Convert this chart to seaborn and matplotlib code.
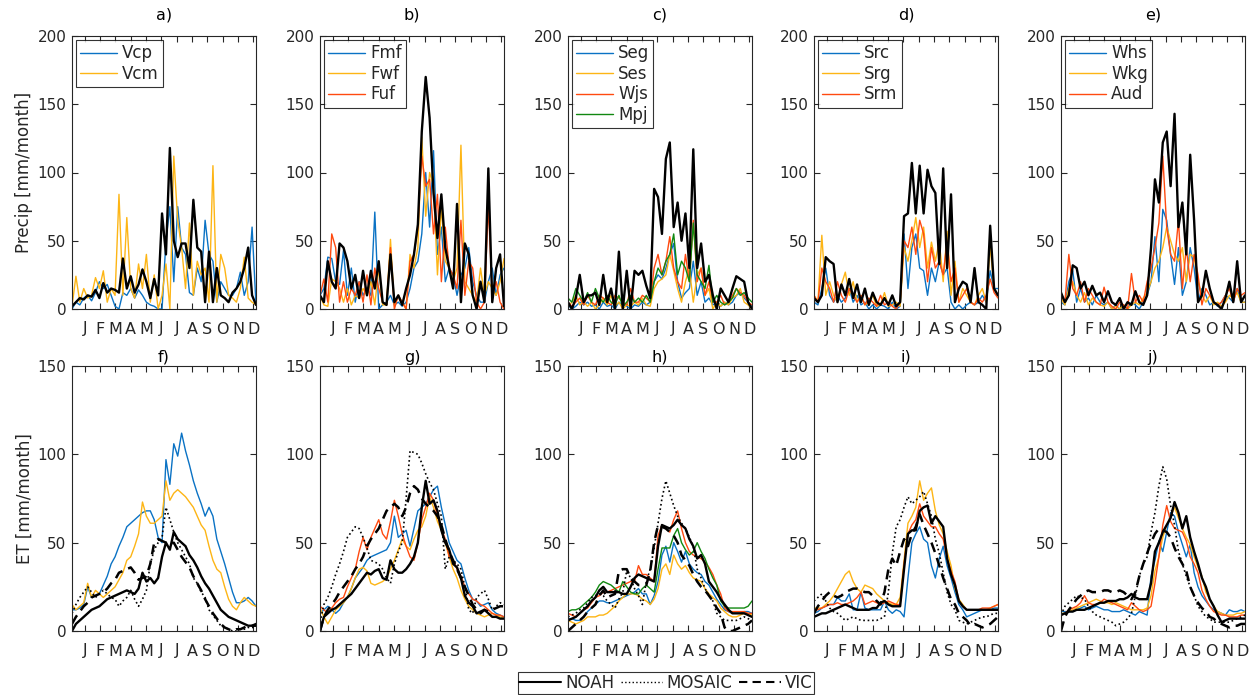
import numpy as np
import pandas as pd
import seaborn as sns
import matplotlib.pyplot as plt
from matplotlib.lines import Line2D

# ---------------- data (48 steps per year) ----------------
months = ['J', 'F', 'M', 'A', 'M', 'J', 'J', 'A', 'S', 'O', 'N', 'D']

# precipitation, top row
a_noah = [2,5,8,7,10,9,14,8,19,12,15,14,12,37,15,24,12,18,29,20,8,22,10,70,
          40,118,50,38,48,48,30,80,45,42,5,42,5,30,10,8,5,12,15,20,30,45,10,3]
a_vcp = [0,5,3,8,10,6,12,20,15,18,10,2,0,12,10,15,8,14,10,5,3,2,0,0,
         50,75,20,75,45,40,12,10,30,20,65,40,35,5,20,15,10,10,15,27,10,20,60,3]
a_vcm = [2,24,5,15,8,10,23,15,28,5,15,10,84,10,67,15,8,33,15,40,5,25,0,10,
         33,0,112,65,45,15,63,10,35,25,30,5,105,5,40,30,10,8,5,15,38,8,5,3]

b_noah = [10,5,35,20,15,48,45,35,15,25,8,28,10,28,15,35,5,3,40,5,10,3,15,25,
          40,62,130,170,140,85,52,84,45,30,15,77,5,48,40,10,0,20,5,103,5,30,40,2]
b_fmf = [10,15,38,37,20,18,43,10,30,5,20,10,15,10,71,0,3,5,10,3,5,2,5,15,
         30,35,55,100,60,116,40,60,20,30,25,10,25,30,45,20,10,5,5,20,30,10,25,30]
b_fwf = [10,3,2,22,20,15,5,15,3,10,8,15,10,20,3,30,3,3,51,2,10,5,0,40,
         30,45,126,68,100,90,25,75,35,30,20,30,120,20,15,10,5,30,10,20,15,10,20,37]
b_fuf = [10,22,5,55,45,5,20,5,15,10,20,5,25,3,30,15,5,3,45,0,10,5,0,35,
         40,60,112,90,95,55,84,20,60,30,25,15,65,10,35,30,5,0,5,76,10,20,5,0]

c_noah = [5,0,8,25,5,10,10,12,3,25,5,15,0,42,0,28,0,28,25,28,17,8,88,82,
          55,110,122,60,78,50,70,30,117,30,48,20,25,10,0,15,10,5,15,24,22,20,5,0]
c_seg = [3,0,2,5,3,5,2,3,0,5,2,3,0,5,3,2,0,3,2,5,3,5,20,25,
         22,30,40,48,20,8,12,15,35,10,20,5,8,3,5,2,5,3,5,10,12,8,5,2]
c_ses = [2,5,10,3,5,2,5,0,3,8,3,10,2,5,0,3,2,5,3,8,3,2,15,20,
         22,25,40,28,15,5,20,30,5,25,30,10,15,0,5,2,5,3,8,10,15,5,3,0]
c_wjs = [5,2,5,8,3,10,5,3,10,8,5,3,10,8,5,3,15,5,5,10,8,5,30,40,
         25,35,53,30,20,15,40,20,65,20,30,10,20,5,5,10,3,5,10,15,12,10,5,3]
c_mpj = [8,5,15,10,5,12,5,15,8,5,10,5,3,10,2,5,10,5,8,5,10,5,20,30,
         25,35,40,55,25,35,30,20,63,25,20,15,32,5,10,5,3,5,8,15,10,12,8,5]

d_noah = [8,5,10,38,35,33,5,18,10,22,8,18,5,15,3,12,5,3,8,3,10,2,5,68,
          70,107,70,105,70,102,90,85,33,103,30,84,5,15,20,18,5,30,5,3,0,61,15,10]
d_src = [5,3,15,30,10,5,10,5,8,15,5,10,3,5,0,3,0,3,2,0,5,0,2,55,
         15,45,55,30,28,10,30,20,35,25,30,5,0,3,0,3,5,3,5,10,5,28,15,15]
d_srg = [10,5,54,10,20,10,5,18,27,10,20,5,10,3,5,10,2,3,12,2,3,5,2,45,
         35,50,67,45,60,30,49,35,50,20,57,10,35,5,15,10,5,3,10,15,5,46,15,10]
d_srm = [10,5,30,20,15,5,20,10,5,15,10,5,10,3,8,5,2,10,3,5,2,0,5,50,
         45,60,40,65,55,20,45,30,35,25,50,20,30,5,10,15,5,3,8,5,10,22,12,8]

e_noah = [12,5,10,32,30,15,20,10,17,10,12,5,13,5,3,8,0,5,3,13,5,3,10,45,
          95,78,122,130,90,143,60,78,40,113,65,5,10,28,15,5,3,0,8,20,5,35,5,10]
e_whs = [5,3,20,28,5,15,5,8,3,10,5,3,5,0,3,0,2,0,5,3,0,5,10,20,
         53,20,73,65,40,18,45,10,20,45,30,5,15,10,3,5,2,5,10,8,5,15,5,5]
e_wkg = [8,3,15,20,10,5,12,3,8,5,3,2,5,0,2,0,3,0,3,5,3,8,12,20,
         30,35,45,60,50,40,35,45,20,40,38,20,10,5,10,3,5,2,5,10,8,12,5,5]
e_aud = [10,5,40,15,10,20,5,15,10,5,3,16,5,2,0,5,3,0,26,5,10,5,20,30,
         45,63,112,60,40,35,65,15,45,20,40,25,3,15,10,5,3,5,10,15,5,15,10,12]

# evapotranspiration, bottom row
f_noah = [0,4,6,8,10,12,13,14,16,18,19,20,21,22,23,22,21,24,33,28,30,27,30,42,
          50,46,56,52,50,48,43,40,36,31,27,24,20,16,12,10,8,7,6,5,4,3,3,4]
f_mosaic = [10,15,19,22,25,22,19,21,23,21,19,18,14,17,19,23,18,14,18,23,38,46,50,53,
            70,63,56,50,46,42,38,30,27,22,19,12,9,6,3,2,1,0,0,1,1,2,2,2]
f_vic = [4,8,11,14,16,19,20,21,22,24,27,29,33,34,35,36,33,29,30,31,38,50,52,51,
         50,49,50,46,42,39,36,31,27,23,18,14,10,7,4,2,1,0,1,1,2,3,3,3]
f_vcp = [12,12,13,15,25,19,20,21,26,31,38,42,48,53,59,61,63,65,67,68,68,63,53,50,
         97,83,106,99,112,102,94,85,78,72,65,70,65,52,45,38,30,22,16,16,17,19,17,14]
f_vcm = [15,12,14,16,27,19,23,21,19,21,23,25,29,33,40,42,48,55,73,65,61,61,63,65,
         85,74,78,80,78,76,73,70,65,60,57,48,40,35,33,25,18,14,12,16,19,17,15,14]

g_noah = [0,8,10,12,13,15,17,19,21,24,27,30,33,32,34,35,30,29,40,35,33,33,35,38,
          42,50,70,85,72,74,68,57,50,46,38,36,30,20,16,14,10,11,12,10,8,8,7,7]
g_mosaic = [5,15,19,25,32,38,45,53,56,59,58,53,47,40,39,38,35,30,27,38,45,50,75,102,
            101,100,95,89,84,80,72,65,35,42,40,38,35,25,12,10,19,21,23,18,12,14,16,15]
g_vic = [0,8,12,15,18,22,25,28,31,35,38,42,48,52,55,58,63,68,70,72,70,65,70,78,
         82,80,75,72,70,68,65,60,52,45,40,35,30,25,20,15,12,10,12,11,12,13,14,14]
g_fmf = [10,12,14,12,10,12,16,19,24,30,33,36,40,42,43,44,45,46,50,65,53,55,57,48,
         58,68,70,72,76,80,82,70,60,50,45,40,38,30,23,18,17,14,15,16,12,10,9,8]
g_fwf = [13,8,4,8,12,14,16,19,24,30,35,36,34,27,26,27,28,30,35,40,46,52,48,46,
         52,57,59,65,76,70,62,57,50,42,35,30,23,18,14,12,10,9,8,9,10,9,8,7]
g_fuf = [14,12,10,13,16,18,19,25,30,35,45,53,46,53,58,63,55,52,62,74,65,55,48,42,
         40,50,63,70,78,74,65,58,52,42,40,35,31,25,21,18,17,15,14,12,10,9,9,8]

h_noah = [6,7,8,10,12,14,17,19,23,25,22,22,22,22,21,21,25,30,32,31,30,29,28,48,
          60,59,58,60,63,60,58,52,48,41,43,38,28,25,22,18,15,12,10,10,10,10,9,8]
h_mosaic = [8,9,10,12,13,16,19,20,21,20,17,15,13,18,22,34,30,24,20,15,28,35,47,61,
            75,85,78,71,65,61,58,53,48,35,30,24,20,17,10,8,6,6,6,6,7,8,7,6]
h_vic = [0,2,4,6,8,11,13,15,20,23,19,20,21,34,35,35,30,28,26,26,26,34,50,60,
         59,58,56,54,50,43,40,37,32,28,25,23,20,17,13,10,2,0,0,1,2,3,4,6]
h_seg = [7,7,6,6,8,11,13,15,17,17,16,16,17,18,19,20,21,22,24,21,21,15,20,28,
         43,48,39,50,45,39,45,38,35,33,32,28,26,22,18,15,12,11,10,10,10,11,11,10]
h_ses = [6,5,4,5,6,8,8,8,9,9,10,12,14,17,19,21,21,21,20,18,17,15,18,24,
         35,38,32,43,38,35,37,33,30,29,28,24,21,19,17,13,11,9,8,8,9,10,10,9]
h_wjs = [10,9,8,10,12,13,16,19,20,22,22,23,24,25,26,27,28,28,37,32,32,30,28,54,
         60,58,56,63,68,58,50,45,43,42,41,39,36,32,26,21,13,11,11,11,11,11,10,10]
h_mpj = [11,12,12,13,15,17,19,22,26,28,27,26,24,22,28,25,22,21,21,24,26,24,22,35,
         47,47,47,54,58,50,46,43,45,50,45,41,35,30,26,17,14,13,13,13,13,13,14,17]

i_noah = [8,9,10,10,11,12,13,14,15,14,13,12,12,12,12,13,13,16,17,15,14,14,14,35,
          55,57,57,68,70,71,61,65,62,59,41,32,26,17,14,12,12,12,12,12,12,12,12,12]
i_mosaic = [17,19,21,17,13,11,10,8,6,7,8,7,6,6,6,6,6,7,8,22,44,59,63,70,
            76,72,74,76,79,72,65,52,44,33,22,15,12,6,5,4,5,6,7,8,8,9,10,10]
i_vic = [10,14,17,20,22,20,19,20,22,23,24,24,23,22,22,20,17,15,22,35,41,37,45,52,
         48,55,59,66,60,55,50,44,37,30,24,18,15,10,8,6,3,4,3,2,3,4,6,8]
i_src = [10,11,13,14,15,15,19,17,17,21,12,12,22,13,12,12,12,12,17,12,10,12,11,8,
         30,50,55,59,52,50,37,30,41,48,37,30,22,15,12,8,9,10,11,12,12,12,13,13]
i_srg = [13,13,13,15,17,20,24,28,32,34,28,24,22,26,25,24,21,19,17,16,15,15,19,40,
         61,65,70,85,74,78,81,68,60,55,45,37,24,18,15,12,12,12,12,12,12,13,14,15]
i_srm = [12,12,13,14,15,15,16,15,15,16,17,19,22,15,16,17,16,15,16,17,16,15,15,38,
         55,60,63,72,65,62,59,59,55,52,41,34,28,17,14,12,12,12,12,13,13,13,14,15]

j_noah = [9,10,11,11,12,12,12,13,14,15,16,16,17,17,17,18,18,19,21,19,18,18,18,27,
          45,50,56,60,64,73,67,58,65,53,45,38,30,25,18,14,9,5,6,7,7,7,7,7]
j_mosaic = [9,14,16,18,20,19,18,14,11,9,8,7,6,5,3,4,5,7,10,20,31,38,42,56,
            67,82,93,86,71,60,45,38,31,25,20,14,11,8,7,5,5,5,5,5,6,7,8,9]
j_vic = [0,8,12,15,18,20,22,23,22,22,22,23,23,22,22,23,22,20,18,22,31,38,44,50,
         55,58,57,56,53,47,42,38,34,25,20,16,13,11,8,7,5,4,3,2,3,3,4,4]
j_whs = [11,11,11,11,12,13,14,12,13,14,13,12,12,11,11,11,12,11,10,9,11,10,9,31,
         40,51,45,56,67,65,56,49,42,49,33,25,20,17,14,12,11,10,9,12,11,11,12,11]
j_wkg = [10,10,11,12,13,14,15,16,17,18,17,16,16,15,16,15,14,13,12,12,12,12,13,20,
         34,42,53,60,65,70,64,58,53,49,42,36,31,22,18,14,11,10,9,9,9,10,10,11]
j_aud = [9,10,12,13,14,16,20,16,15,15,16,18,17,16,15,14,13,12,16,14,12,11,12,14,
         27,42,60,71,62,58,57,56,51,42,38,33,23,18,14,11,10,9,9,8,8,8,9,9]

top_panels = [
    ('a)', a_noah, [('Vcp', a_vcp), ('Vcm', a_vcm)]),
    ('b)', b_noah, [('Fmf', b_fmf), ('Fwf', b_fwf), ('Fuf', b_fuf)]),
    ('c)', c_noah, [('Seg', c_seg), ('Ses', c_ses), ('Wjs', c_wjs), ('Mpj', c_mpj)]),
    ('d)', d_noah, [('Src', d_src), ('Srg', d_srg), ('Srm', d_srm)]),
    ('e)', e_noah, [('Whs', e_whs), ('Wkg', e_wkg), ('Aud', e_aud)]),
]
bottom_panels = [
    ('f)', f_noah, f_mosaic, f_vic, [f_vcp, f_vcm]),
    ('g)', g_noah, g_mosaic, g_vic, [g_fmf, g_fwf, g_fuf]),
    ('h)', h_noah, h_mosaic, h_vic, [h_seg, h_ses, h_wjs, h_mpj]),
    ('i)', i_noah, i_mosaic, i_vic, [i_src, i_srg, i_srm]),
    ('j)', j_noah, j_mosaic, j_vic, [j_whs, j_wkg, j_aud]),
]

site_colors = ['#0a72c4', '#fdb515', '#ff4a10', '#118811']
axcol = '#262626'

sns.set_theme(style='white')
plt.rcParams['font.family'] = ['DejaVu Sans']

fig = plt.figure(figsize=(12.57, 6.95), dpi=100)
W, H = 1257, 695
lefts = [72, 320, 568, 814, 1061]
aw = 184


def style_axes(ax, ymax, ystep):
    ax.set_xlim(0, 12)
    ax.set_ylim(0, ymax)
    ax.set_xticks(np.arange(12) + 0.83)
    ax.set_xticklabels(months, fontsize=11.5, color=axcol)
    ax.set_yticks(np.arange(0, ymax + 1, ystep))
    ax.tick_params(axis='y', labelsize=11, colors=axcol)
    ax.tick_params(direction='in', length=4, width=0.8, top=True, right=True,
                   bottom=True, left=True, color=axcol, pad=4)
    ax.tick_params(axis='x', pad=9)
    for s in ax.spines.values():
        s.set_color(axcol)
        s.set_linewidth(0.8)
    ax.set_xlabel('')
    ax.set_ylabel('')


x = np.linspace(0, 12, 48)

for k, (title, noah, sites) in enumerate(top_panels):
    ax = fig.add_axes([lefts[k] / W, 1 - 309 / H, aw / W, 273 / H])
    for n, (name, vals) in enumerate(sites):
        sns.lineplot(x=x, y=vals, ax=ax, color=site_colors[n], lw=1.0, label=name)
    sns.lineplot(x=x, y=noah, ax=ax, color='black', lw=1.7, label='_nolegend_')
    style_axes(ax, 200, 50)
    ax.set_title(title, fontsize=11.5, pad=12, color='black')
    leg = ax.legend(loc='upper left', fontsize=12, frameon=True, fancybox=False,
                    edgecolor='black', handlelength=2.2, handletextpad=0.3,
                    labelspacing=0.15, borderpad=0.25, borderaxespad=0.25)
    leg.get_frame().set_linewidth(0.8)
    if k == 0:
        ax.set_ylabel('Precip [mm/month]', fontsize=12, color=axcol, labelpad=3)

for k, (title, noah, mosaic, vic, sites) in enumerate(bottom_panels):
    ax = fig.add_axes([lefts[k] / W, 1 - 631 / H, aw / W, 265 / H])
    for n, vals in enumerate(sites):
        sns.lineplot(x=x, y=vals, ax=ax, color=site_colors[n], lw=1.0)
    sns.lineplot(x=x, y=mosaic, ax=ax, color='black', lw=1.2, linestyle=':')
    sns.lineplot(x=x, y=vic, ax=ax, color='black', lw=1.8, dashes=False,
                 linestyle=(0, (4, 2.5)))
    sns.lineplot(x=x, y=noah, ax=ax, color='black', lw=1.7)
    style_axes(ax, 150, 50)
    ax.set_title(title, fontsize=11.5, pad=3, color='black')
    if k == 0:
        ax.set_ylabel('ET [mm/month]', fontsize=12, color=axcol, labelpad=3)

handles = [Line2D([], [], color='black', lw=1.5),
           Line2D([], [], color='black', lw=1.0, linestyle=':'),
           Line2D([], [], color='black', lw=1.5, linestyle=(0, (4, 2.5)))]
leg = fig.legend(handles, ['NOAH', 'MOSAIC', 'VIC'], loc='upper center',
                 bbox_to_anchor=(666 / W, 1 - 664 / H), ncol=3, fontsize=12,
                 frameon=True, fancybox=False, edgecolor='black',
                 handlelength=2.5, handletextpad=0.25, columnspacing=0.4,
                 borderpad=0.1)
leg.get_frame().set_linewidth(0.8)

fig.savefig('out.png', dpi=100, facecolor='white')
